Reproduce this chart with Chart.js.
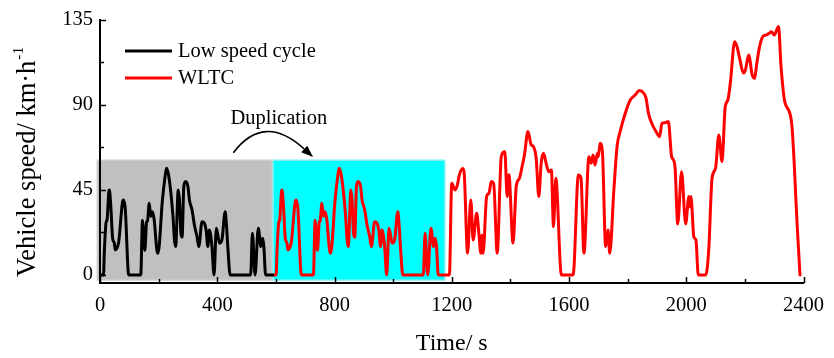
<!DOCTYPE html>
<html><head><meta charset="utf-8">
<script src="https://cdn.jsdelivr.net/npm/chart.js@4.4.1/dist/chart.umd.min.js"></script>
<style>html,body{margin:0;padding:0;background:#fff}#wrap{width:834px;height:358px}</style>
</head><body><div id="wrap"><canvas id="c" width="834" height="358"></canvas></div>
<script>
// ---- data ----
const seriesNames = ['Low speed cycle', 'WLTC'];
const xTickValues = [0, 400, 800, 1200, 1600, 2000, 2400];
const yTickValues = [0, 45, 90, 135];

const lowTime = [0,12,15,21,24,30,32,37,43,49,52,60,64,77,80,86,98,139,145,148,153,159,162,168,173,179,185,194,198,213,222,227,235,249,254,258,267,271,276,280,286,292,300,305,314,323,331,337,348,356,362,368,373,382,389,397,408,416,427,431,436,444,514,520,529,540,549,555,559,565,589];
const lowSpeed = [0,0,13,28,29,44,45,36,19.4,16.8,13.2,15,17.6,38.8,39.7,35.3,0,0,29,24,13,28,28.5,38,31,33.5,29,13.2,11.5,39.7,52,56.5,52,31,18.5,15,45,39.7,22,20,46.8,49.4,46.8,39.7,34.4,25.6,20.3,15,28.2,27.4,23.8,15,23.8,15,0,24.7,16.8,18.5,33.5,27.4,15,0,0,22,0,24.7,15,19.4,15,0,0];

const wltcTime = [589,601,604,610,613,619,621,626,632,638,641,649,653,666,669,675,687,728,734,737,742,748,751,757,762,768,774,783,787,802,811,816,824,838,843,847,856,860,865,869,875,881,889,894,903,912,920,926,937,945,951,957,962,971,978,986,997,1005,1016,1020,1025,1033,1103,1109,1118,1129,1138,1144,1148,1154,
1192,1200,1211,1219,1226,1237,1242,1254,1265,1273,1285,1293,1299,1303,1307,1319,1327,1335,1343,1355,1369,1381,1389,1395,1409,1420,1431,1440,1448,1460,1471,1479,1488,1497,1505,1513,1522,1531,1540,1547,1555,1574,
1614,1632,1641,1651,1668,1676,1682,1689,1697,1700,1706,1714,1725,1733,1739,1753,1764,1776,1792,1809,1826,1840,1855,1863,1871,1885,1897,1909,1917,1928,1939,1950,1956,1962,1971,1984,1998,2009,2013,2016,2026,2033,2041,
2067,2077,2088,2100,2111,2122,2133,2142,2151,2165,2173,2182,2195,2202,2213,2225,2233,2240,2249,2261,2272,2283,2291,2300,2315,2323,2336,2359,2379,2388];
const wltcSpeed = [0,0,13,28,29,44,45,36,19.4,16.8,13.2,15,17.6,38.8,39.7,35.3,0,0,29,24,13,28,28.5,38,31,33.5,29,13.2,11.5,39.7,52,56.5,52,31,18.5,15,45,39.7,22,20,46.8,49.4,46.8,39.7,34.4,25.6,20.3,15,28.2,27.4,23.8,15,23.8,15,0,24.7,16.8,18.5,33.5,27.4,15,0,0,22,0,24.7,15,19.4,15,0,
0,48.5,45,47.6,53,56.4,54.6,11.5,39.7,18.5,32.6,21.2,11.5,21,11.5,41.5,43.3,49.4,48.5,11.5,62.6,65.3,41.5,53,16.8,46.8,51.2,57.4,63.5,75.9,68.8,67.9,61.7,41.5,59.1,64.4,59.1,54.6,55.5,25.6,51.2,0,
0,52.9,51.2,11.5,62.6,59.1,63.5,58.2,64.4,62.6,69.7,65.3,15,23.8,11.5,44.9,68,76.8,85.6,92.6,95.3,97.6,96.2,93.5,85.6,79.4,75.9,73.2,80.3,80.6,81.2,62.6,61,56.4,27,54.6,27,41.5,36,41.5,20,18.5,0,
0,14.1,51.2,56.5,74.1,60,89.1,92.6,102.4,123.5,121,114.8,106.9,108.6,116.5,105.9,104.1,111.2,120,126.2,127,128,128.8,127,131.5,111.2,91.8,81.2,24.7,0];

// ---- styling / annotation options ----
const FONT = "'Liberation Serif', 'Times New Roman', serif";
const boxOpts = [
  { from: -11, to: 589, top: 61, bottom: -3, fill: '#c0c0c0', stroke: '#d4d4d4' },
  { from: 589, to: 1178, top: 61, bottom: -3, fill: '#00ffff', stroke: '#b8e8e8' }
];
const annot = {
  text: 'Duplication', textX: 610, textY: 79.9,
  from: { x: 455, y: 64.7 }, ctrl: { x: 559, y: 86.1 }, to: { x: 727, y: 62.4 }
};

const toXY = (xs, ys) => xs.map((t, i) => ({ x: t, y: ys[i] }));

const deco = {
  id: 'deco',
  beforeDraw(chart) {
    const { ctx, scales: { x, y } } = chart;
    ctx.save();
    boxOpts.forEach(b => {
      const l = x.getPixelForValue(b.from), r = x.getPixelForValue(b.to);
      const t = y.getPixelForValue(b.top), btm = y.getPixelForValue(b.bottom);
      ctx.fillStyle = b.fill;
      ctx.fillRect(l, t, r - l, btm - t);
      ctx.strokeStyle = b.stroke; ctx.lineWidth = 1;
      ctx.strokeRect(l + 0.5, t + 0.5, r - l - 1, btm - t - 1);
    });
    ctx.restore();
  },
  afterDraw(chart) {
    const { ctx, chartArea: ca, scales: { x, y } } = chart;
    ctx.save();
    // inward ticks
    ctx.strokeStyle = '#000'; ctx.lineWidth = 1.5;
    for (let v = 0; v <= 2400; v += 200) {
      const px = Math.round(x.getPixelForValue(v)) + 0.5;
      const len = v % 400 === 0 ? 6 : 4;
      ctx.beginPath(); ctx.moveTo(px, ca.bottom); ctx.lineTo(px, ca.bottom - len); ctx.stroke();
    }
    for (let v = 0; v <= 135; v += 22.5) {
      const py = Math.round(y.getPixelForValue(v)) + 0.5;
      const len = v % 45 === 0 ? 6 : 4;
      ctx.beginPath(); ctx.moveTo(ca.left, py); ctx.lineTo(ca.left + len, py); ctx.stroke();
    }
    // legend
    ctx.font = '20.5px ' + FONT; ctx.textBaseline = 'middle'; ctx.textAlign = 'left';
    chart.data.datasets.forEach((ds, i) => {
      const ly = 51 + i * 27;
      ctx.strokeStyle = ds.borderColor; ctx.lineWidth = 3;
      ctx.beginPath(); ctx.moveTo(125, ly); ctx.lineTo(172, ly); ctx.stroke();
      ctx.fillStyle = '#000';
      ctx.fillText(ds.label, 178, ly + 1);
    });
    // duplication arrow
    const p0 = { x: x.getPixelForValue(annot.from.x), y: y.getPixelForValue(annot.from.y) };
    const pc = { x: x.getPixelForValue(annot.ctrl.x), y: y.getPixelForValue(annot.ctrl.y) };
    const p1 = { x: x.getPixelForValue(annot.to.x), y: y.getPixelForValue(annot.to.y) };
    const ang = Math.atan2(p1.y - pc.y, p1.x - pc.x);
    const hl = 12, hw = 4.5;
    const bx = p1.x - hl * Math.cos(ang), by = p1.y - hl * Math.sin(ang);
    ctx.strokeStyle = '#000'; ctx.lineWidth = 1.6;
    ctx.beginPath(); ctx.moveTo(p0.x, p0.y);
    ctx.quadraticCurveTo(pc.x, pc.y, bx, by); ctx.stroke();
    ctx.fillStyle = '#000';
    ctx.beginPath();
    ctx.moveTo(p1.x, p1.y);
    ctx.lineTo(bx + hw * Math.sin(ang), by - hw * Math.cos(ang));
    ctx.lineTo(bx - hw * Math.sin(ang), by + hw * Math.cos(ang));
    ctx.closePath(); ctx.fill();
    ctx.font = '20.5px ' + FONT; ctx.textAlign = 'center'; ctx.textBaseline = 'alphabetic';
    ctx.fillText(annot.text, x.getPixelForValue(annot.textX), y.getPixelForValue(annot.textY));
    // y-axis title with superscript
    ctx.translate(35, 277); ctx.rotate(-Math.PI / 2);
    ctx.textAlign = 'left';
    ctx.font = '26.5px ' + FONT;
    const main = 'Vehicle speed/ km\u00B7h';
    ctx.fillText(main, 0, 0);
    const w = ctx.measureText(main).width;
    ctx.font = '15.5px ' + FONT;
    ctx.fillText('-1', w + 1, -12);
    ctx.restore();
  }
};

new Chart(document.getElementById('c'), {
  type: 'line',
  data: {
    datasets: [
      { label: seriesNames[0], data: toXY(lowTime, lowSpeed), borderColor: '#000000', borderWidth: 3, pointRadius: 0, cubicInterpolationMode: 'monotone', borderJoinStyle: 'round', borderCapStyle: 'round' },
      { label: seriesNames[1], data: toXY(wltcTime, wltcSpeed), borderColor: '#ff0000', borderWidth: 3, pointRadius: 0, cubicInterpolationMode: 'monotone', borderJoinStyle: 'round', borderCapStyle: 'round' }
    ]
  },
  options: {
    responsive: false, animation: false, devicePixelRatio: 1,
    layout: { padding: { top: 20, right: 25, bottom: 0, left: 0 } },
    plugins: { legend: { display: false }, tooltip: { enabled: false } },
    scales: {
      x: {
        type: 'linear', min: 0, max: 2400,
        grid: { display: false, drawTicks: false },
        border: { display: true, color: '#000', width: 2 },
        afterBuildTicks: s => { s.ticks = xTickValues.map(v => ({ value: v })); },
        ticks: { color: '#000', font: { family: FONT, size: 20.5 }, padding: 10, maxRotation: 0, autoSkip: false, callback: v => String(v) },
        title: { display: true, text: 'Time/ s', color: '#000', font: { family: FONT, size: 24 }, padding: { top: 0, bottom: 0 } },
        afterFit: s => { s.height = 75; }
      },
      y: {
        type: 'linear', min: -4.3, max: 135,
        grid: { display: false, drawTicks: false },
        border: { display: true, color: '#000', width: 2 },
        afterBuildTicks: s => { s.ticks = yTickValues.map(v => ({ value: v })); },
        ticks: { color: '#000', font: { family: FONT, size: 20.5 }, padding: 7, autoSkip: false, callback: v => String(v) },
        afterFit: s => { s.width = 100; }
      }
    }
  },
  plugins: [deco]
});
</script>
</body></html>
